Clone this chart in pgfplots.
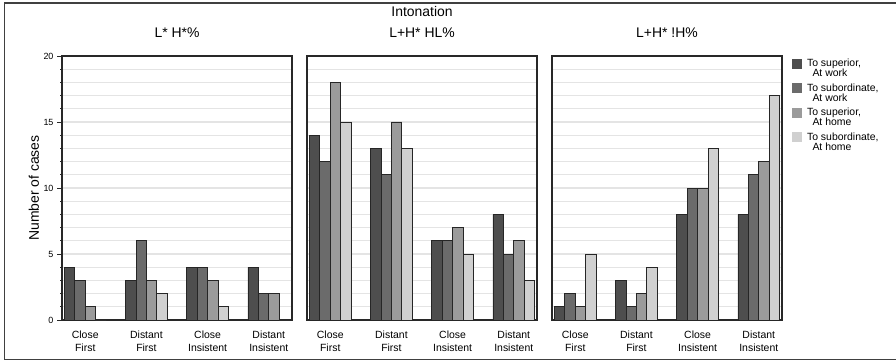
\documentclass[border=0pt]{standalone}
\usepackage{fontspec}
\setmainfont{Liberation Sans}
\usepackage{pgfplots}
\pgfplotsset{compat=1.18}
\definecolor{cA}{RGB}{78,78,78}
\definecolor{cB}{RGB}{107,107,107}
\definecolor{cC}{RGB}{155,155,155}
\definecolor{cD}{RGB}{208,208,208}
\definecolor{gridc}{RGB}{228,228,228}
\definecolor{framec}{RGB}{40,40,40}
\newcommand{\lgf}{\fontsize{10.5}{10.4}\selectfont}
\pgfplotsset{
 panel/.style={
  scale only axis, width=230bp, height=264bp,
  anchor=south west,
  xmin=-0.38, xmax=3.38, ymin=0, ymax=20,
  axis line style={draw=framec, line width=1.2bp},
  xtick={0,1,2,3},
  xticklabels={{Close\\First},{Distant\\First},{Close\\Insistent},{Distant\\Insistent}},
  xtick align=inside,
  tick pos=left,
  x tick style={draw=none},
  xticklabel style={align=center, font=\fontsize{10.5}{13.4}\selectfont, yshift=-7bp},
  ytick={0,5,10,15,20},
  minor ytick={1,...,19},
  ymajorgrids, yminorgrids,
  major grid style={draw=gridc, line width=1.2bp},
  minor grid style={draw=gridc, line width=1.2bp},
  ytick align=outside,
  major tick length=5bp, minor tick length=2bp,
  y tick style={draw=framec, line width=0.8bp},
  yticklabel style={font=\fontsize{9}{10}\selectfont},
  /pgf/number format/assume math mode=true,
  title style={at={(0.5,1)}, anchor=base, yshift=12.7bp, align=center, font=\fontsize{14}{21}\selectfont},
 },
 noy/.style={yticklabels={}, major tick length=0bp, minor tick length=0bp, y tick style={draw=none}, minor y tick style={draw=none}},
 bA/.style={ybar, bar width=0.17, bar shift=-0.255, fill=cA, draw=black!85, line width=0.8bp,
   legend image code/.code={\fill[cA] (0bp,8.7bp) rectangle (9bp,17.7bp);}},
 bB/.style={ybar, bar width=0.17, bar shift=-0.085, fill=cB, draw=black!85, line width=0.8bp,
   legend image code/.code={\fill[cB] (0bp,8.7bp) rectangle (9bp,17.7bp);}},
 bC/.style={ybar, bar width=0.17, bar shift=0.085, fill=cC, draw=black!85, line width=0.8bp,
   legend image code/.code={\fill[cC] (0bp,8.7bp) rectangle (9bp,17.7bp);}},
 bD/.style={ybar, bar width=0.17, bar shift=0.255, fill=cD, draw=black!85, line width=0.8bp,
   legend image code/.code={\fill[cD] (0bp,8.7bp) rectangle (9bp,17.7bp);}},
}
\begin{document}
\begin{tikzpicture}[x=1bp,y=1bp]
\path[use as bounding box] (0,0) rectangle (896,361);
\draw[line width=1.5bp, color=black!75] (900,358) -- (4.5,358) -- (4.5,1.7) -- (900,1.7);

\begin{axis}[panel, at={(62bp,41bp)}, title={L* H*\%},
  ylabel={\fontsize{14}{16}\selectfont Number of cases},
  ylabel style={at={(axis description cs:-0.1,0.5)}, anchor=base}]
\addplot[bA] coordinates {(0,4) (1,3) (2,4) (3,4)};
\addplot[bB] coordinates {(0,3) (1,6) (2,4) (3,2)};
\addplot[bC] coordinates {(0,1) (1,3) (2,3) (3,2)};
\addplot[bD] coordinates {(0,0) (1,2) (2,1) (3,0)};
\end{axis}

\begin{axis}[panel, noy, at={(307bp,41bp)}, title={Intonation\\L+H* HL\%}]
\addplot[bA] coordinates {(0,14) (1,13) (2,6) (3,8)};
\addplot[bB] coordinates {(0,12) (1,11) (2,6) (3,5)};
\addplot[bC] coordinates {(0,18) (1,15) (2,7) (3,6)};
\addplot[bD] coordinates {(0,15) (1,13) (2,5) (3,3)};
\end{axis}

\begin{axis}[panel, noy, at={(552bp,41bp)}, title={L+H* !H\%},
  legend style={at={(rel axis cs:1,1)}, anchor=north west, xshift=10bp, yshift=-2.6bp,
    draw=none, fill=none, inner sep=0pt,
    font=\lgf,
    cells={anchor=base west, align=left, font=\lgf}, nodes={inner sep=0pt},
    row sep=4.9bp, column sep=5bp}]
\addplot[bA] coordinates {(0,1) (1,3) (2,8) (3,8)};
\addlegendentry{\lgf To superior,\\\lgf\hspace*{5.5bp}At work}
\addplot[bB] coordinates {(0,2) (1,1) (2,10) (3,11)};
\addlegendentry{\lgf To subordinate,\\\lgf\hspace*{5.5bp}At work}
\addplot[bC] coordinates {(0,1) (1,2) (2,10) (3,12)};
\addlegendentry{\lgf To superior,\\\lgf\hspace*{5.5bp}At home}
\addplot[bD] coordinates {(0,5) (1,4) (2,13) (3,17)};
\addlegendentry{\lgf To subordinate,\\\lgf\hspace*{5.5bp}At home}
\end{axis}
\end{tikzpicture}
\end{document}
